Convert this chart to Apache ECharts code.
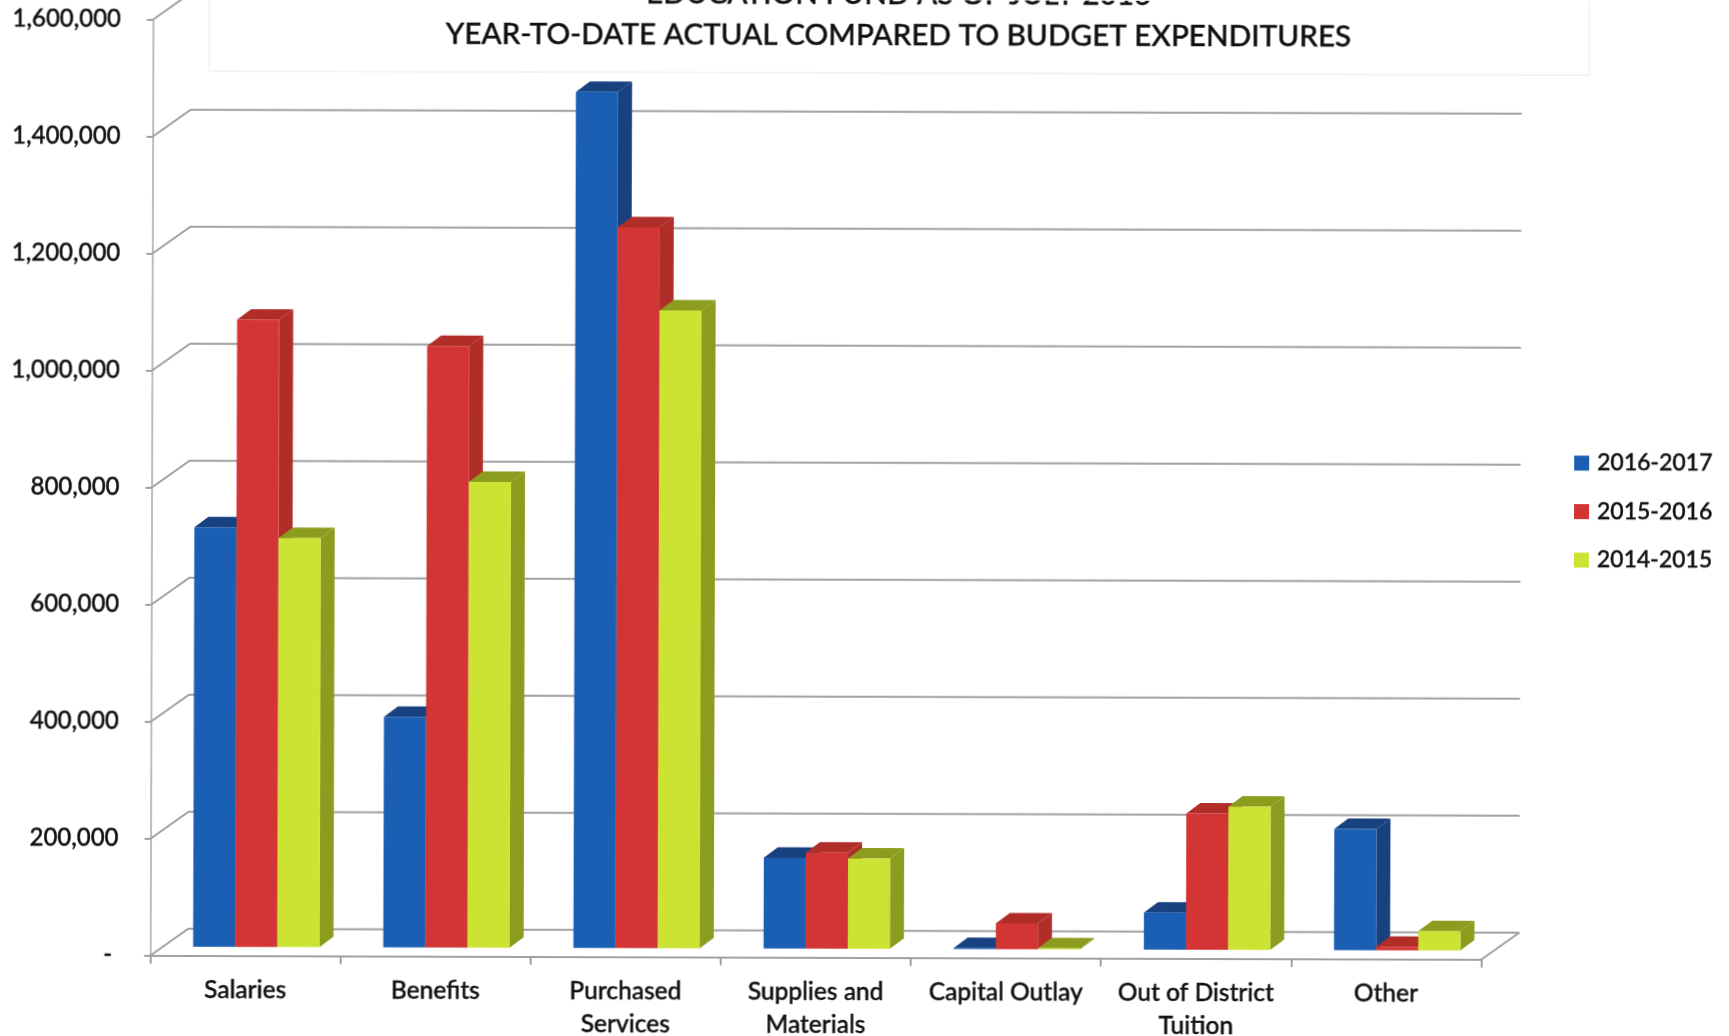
<!DOCTYPE html>
<html>
<head>
<meta charset="utf-8">
<title>Expenditures</title>
<style>
  html, body { margin: 0; padding: 0; background: #fff; overflow: hidden; }
  #main { width: 1729px; height: 1036px; transform: rotate(0.17deg); transform-origin: 50% 50%; }
</style>
<script src="https://cdn.jsdelivr.net/npm/echarts@6/dist/echarts.min.js"></script>
</head>
<body>
<div id="main"></div>
<script>
const categories = ['Salaries', 'Benefits', 'Purchased\nServices', 'Supplies and\nMaterials', 'Capital Outlay', 'Out of District\nTuition', 'Other'];
const fy2016_2017 = [717000, 394000, 1463000, 155000, 1500, 63000, 207000];
const fy2015_2016 = [1072000, 1028000, 1232000, 164000, 44000, 233000, 6000];
const fy2014_2015 = [699000, 796000, 1090000, 154000, 1500, 245000, 33000];
const valueTicks = [0, 200000, 400000, 600000, 800000, 1000000, 1200000, 1400000, 1600000];
const titleLines = ['EDUCATION FUND AS OF JULY 2016', 'YEAR-TO-DATE ACTUAL COMPARED TO BUDGET EXPENDITURES'];

const FONT = 'Lato';
const TEXT = '#111111';
const GRID_LINE = '#a0a0a0';
const HEAVY = { textBorderColor: TEXT, textBorderWidth: 0.4 };

// Oblique projection: the back wall and the bars' faces sit behind the front plane.
const WALL = [38, -27];
const BAR_FRONT = [11, -9];
const BAR_BACK = [25, -19.5];
const BAR_SHARE = 0.2215;

function poly(points, fill) {
  return { type: 'polygon', shape: { points }, style: { fill }, silent: true };
}

// Three faces of a column: front, side, top.
function boxRenderer(slot, front, shade) {
  return function (params, api) {
    const cat = api.value(0);
    const top = api.coord([cat, api.value(1)]);
    const base = api.coord([cat, 0]);
    const w = api.size([1, 0])[0] * BAR_SHARE;
    const l = top[0] + (slot - 1.5) * w + BAR_FRONT[0];
    const r = l + w;
    const ty = top[1] + BAR_FRONT[1];
    const by = base[1] + BAR_FRONT[1];
    const ox = BAR_BACK[0] - BAR_FRONT[0];
    const oy = BAR_BACK[1] - BAR_FRONT[1];
    return {
      type: 'group',
      children: [
        poly([[r, by], [r + ox, by + oy], [r + ox, ty + oy], [r, ty]], shade),
        poly([[l, ty], [l + ox, ty + oy], [r + ox, ty + oy], [r, ty]], shade),
        poly([[l, by], [r, by], [r, ty], [l, ty]], front)
      ]
    };
  };
}

// Gridline on the side wall and across the back wall, one per axis tick.
function wallRenderer(params, api) {
  const g = params.coordSys;
  const y = api.coord([0, api.value(0)])[1];
  const children = [{
    type: 'polyline',
    shape: { points: [[g.x, y], [g.x + WALL[0], y + WALL[1]], [g.x + g.width + WALL[0], y + WALL[1]]] },
    style: { fill: 'none', stroke: GRID_LINE, lineWidth: 2 },
    silent: true
  }];
  if (api.value(0) === 0) {
    children.push({
      type: 'line',
      shape: { x1: g.x + g.width, y1: y, x2: g.x + g.width + WALL[0], y2: y + WALL[1] },
      style: { stroke: GRID_LINE, lineWidth: 2 },
      silent: true
    });
  }
  return { type: 'group', children };
}

function barSeries(name, values, slot, front, shade) {
  return {
    name,
    type: 'custom',
    coordinateSystem: 'cartesian2d',
    renderItem: boxRenderer(slot, front, shade),
    encode: { x: 0, y: 1 },
    itemStyle: { color: front },
    data: values.map((v, i) => [i, v]),
    z: 3 + slot,
    silent: true
  };
}

const chart = echarts.init(document.getElementById('main'));
chart.setOption({
  animation: false,
  backgroundColor: '#ffffff',
  title: {
    text: titleLines.join('\n'),
    left: 892,
    top: -31,
    textAlign: 'center',
    textStyle: { fontFamily: FONT, fontSize: 29.7, fontWeight: 500, color: TEXT, lineHeight: 41, align: 'center', ...HEAVY }
  },
  legend: {
    orient: 'vertical',
    left: 1569,
    top: 443,
    icon: 'rect',
    itemWidth: 15,
    itemHeight: 15,
    itemGap: 22.5,
    data: ['2016-2017', '2015-2016', '2014-2015'],
    textStyle: { fontFamily: FONT, fontSize: 23, fontWeight: 500, color: TEXT, padding: [0, 0, 0, 3], lineHeight: 26, ...HEAVY }
  },
  graphic: [{
    type: 'polyline',
    shape: { points: [[208, -2], [208, 73], [1588, 73], [1588, -2]] },
    style: { fill: 'none', stroke: '#f4f4f4', lineWidth: 2 },
    z: 0,
    silent: true
  }],
  grid: { left: 151.5, top: 21.7, width: 1331, height: 936, outerBoundsMode: 'none' },
  xAxis: {
    type: 'category',
    data: categories,
    axisLine: { lineStyle: { color: GRID_LINE, width: 2 } },
    axisTick: { show: true, length: 8, alignWithLabel: false, lineStyle: { color: GRID_LINE, width: 2 } },
    axisLabel: { interval: 0, margin: 18, fontFamily: FONT, fontSize: 24.5, fontWeight: 500, color: TEXT, lineHeight: 33, ...HEAVY },
    splitLine: { show: false }
  },
  yAxis: {
    type: 'value',
    min: 0,
    max: 1600000,
    interval: 200000,
    axisLine: { show: true, lineStyle: { color: '#bdbdbd', width: 2 } },
    axisTick: { show: true, length: 6, lineStyle: { color: GRID_LINE, width: 2 } },
    axisLabel: {
      margin: 32,
      fontFamily: FONT,
      fontSize: 24,
      fontWeight: 500,
      color: TEXT,
      ...HEAVY,
      formatter: v => (v === 0 ? '- ' : v.toLocaleString('en-US'))
    },
    splitLine: { show: false }
  },
  series: [
    {
      name: 'walls',
      type: 'custom',
      coordinateSystem: 'cartesian2d',
      renderItem: wallRenderer,
      encode: { y: 0 },
      data: valueTicks.map(v => [v]),
      z: 1,
      silent: true
    },
    barSeries('2016-2017', fy2016_2017, 0, '#1b5fb5', '#17417f'),
    barSeries('2015-2016', fy2015_2016, 1, '#d23533', '#b02d28'),
    barSeries('2014-2015', fy2014_2015, 2, '#cde333', '#8c9c1e')
  ]
});
</script>
</body>
</html>
